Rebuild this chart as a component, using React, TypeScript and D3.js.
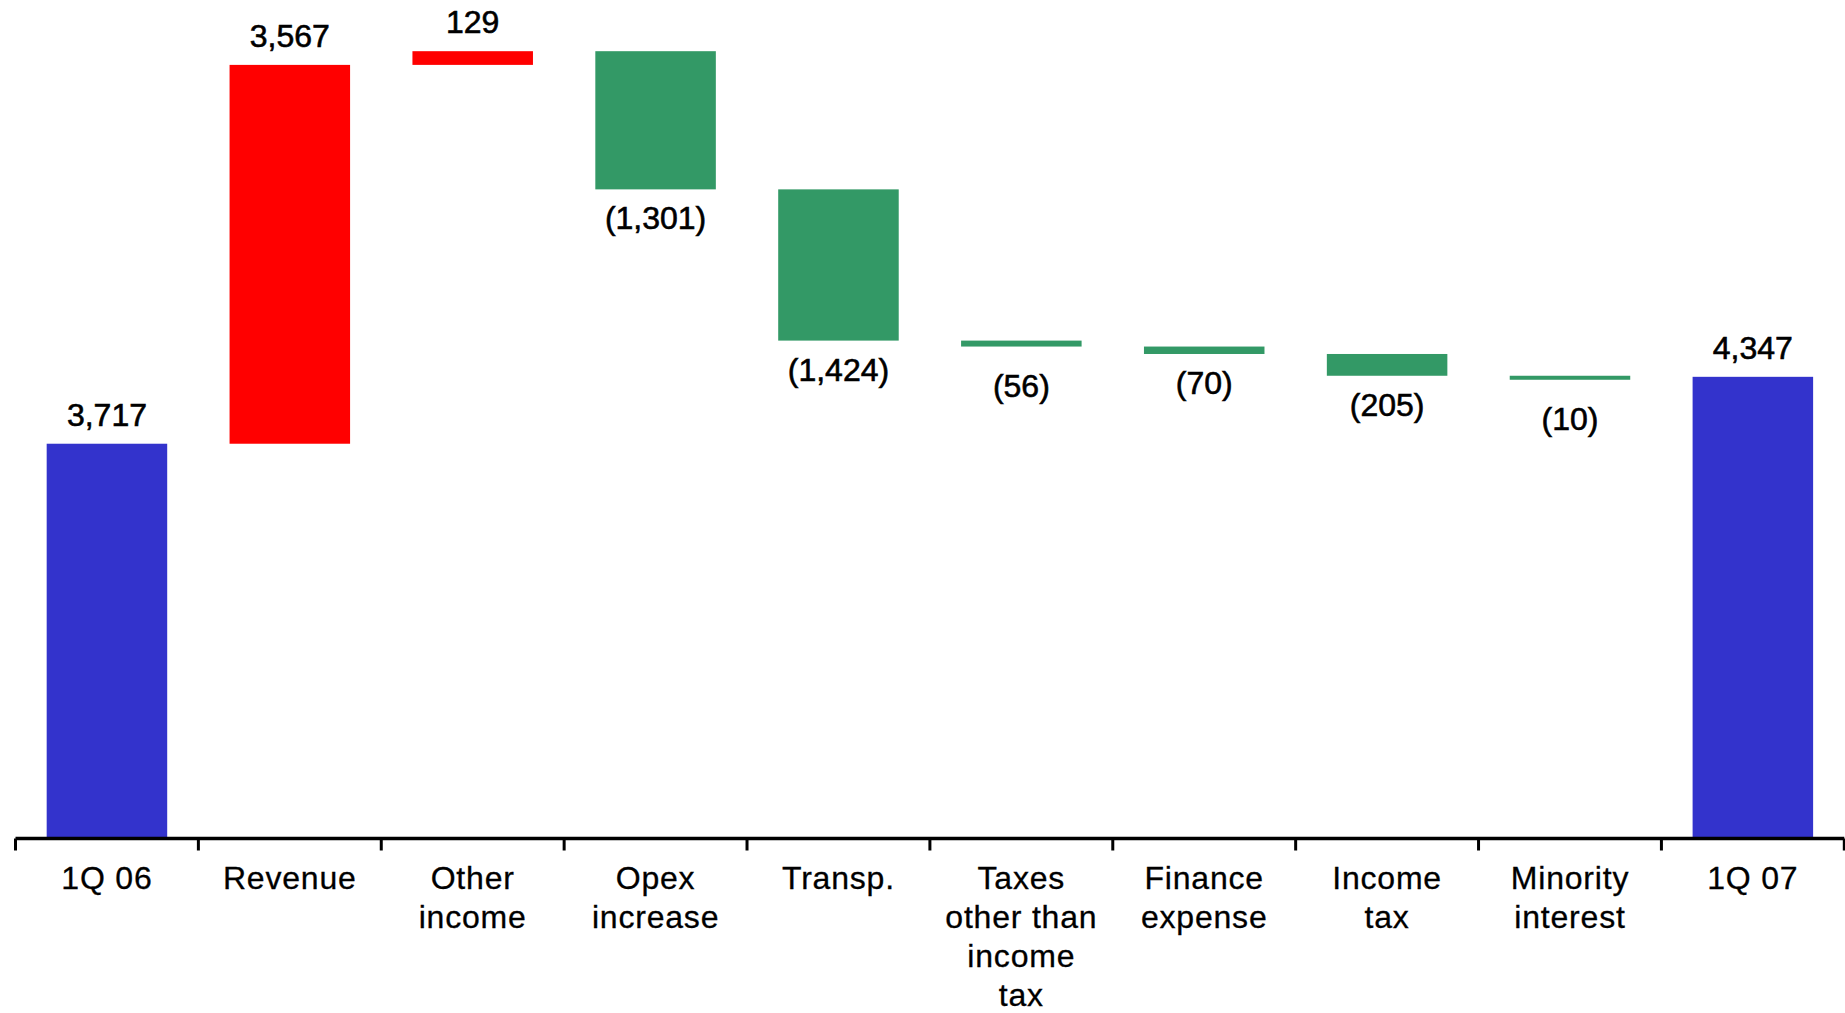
import React from "react";
import * as d3 from "d3";

// Bridge from 1Q 06 to 1Q 07 net income, in millions
const categories = [
  "1Q 06",
  "Revenue",
  "Other income",
  "Opex increase",
  "Transp.",
  "Taxes other than income tax",
  "Finance expense",
  "Income tax",
  "Minority interest",
  "1Q 07",
];

const categoryLines = [
  ["1Q 06"],
  ["Revenue"],
  ["Other", "income"],
  ["Opex", "increase"],
  ["Transp."],
  ["Taxes", "other than", "income", "tax"],
  ["Finance", "expense"],
  ["Income", "tax"],
  ["Minority", "interest"],
  ["1Q 07"],
];

const values = [3717, 3567, 129, -1301, -1424, -56, -70, -205, -10, 4347];

const kinds = [
  "total",
  "change",
  "change",
  "change",
  "change",
  "change",
  "change",
  "change",
  "change",
  "total",
];

const WIDTH = 1845;
const HEIGHT = 1013;
const AXIS_Y = 838.5;
const FONT = "'Liberation Sans', Arial, sans-serif";

const COLORS = {
  total: "#3333CC",
  up: "#FF0000",
  down: "#339966",
};

type Step = {
  cat: string;
  lines: string[];
  value: number;
  y0: number;
  y1: number;
  kind: string;
};

function buildSteps(): Step[] {
  let running = 0;
  return categories.map((cat, i) => {
    const v = values[i];
    let y0: number;
    let y1: number;
    if (kinds[i] === "total") {
      y0 = 0;
      y1 = v;
      running = v;
    } else {
      y0 = running;
      y1 = running + v;
      running = y1;
    }
    return { cat, lines: categoryLines[i], value: v, y0, y1, kind: kinds[i] };
  });
}

const fmt = d3.format(",");
const labelText = (v: number) => (v < 0 ? `(${fmt(-v)})` : fmt(v));

export default function App() {
  const steps = buildSteps();

  const x = d3
    .scaleBand<string>()
    .domain(categories)
    .range([15.5, 1844.3])
    .paddingInner(0.341)
    .paddingOuter(0.1705);

  const y = d3.scaleLinear().domain([0, 7895]).range([AXIS_Y, 0]);

  const step = x.step();
  const start = x.range()[0];
  const tickXs = d3.range(categories.length + 1).map((i) => start + i * step);
  const minBar = 4;

  return (
    <svg
      width={WIDTH}
      height={HEIGHT}
      viewBox={`0 0 ${WIDTH} ${HEIGHT}`}
      style={{ position: "absolute", left: 0, top: 0, background: "#fff" }}
    >
      <rect x={0} y={0} width={WIDTH} height={HEIGHT} fill="#fff" />
      {steps.map((s) => {
        const top = y(Math.max(s.y0, s.y1));
        const bottom = y(Math.min(s.y0, s.y1));
        const h = Math.max(bottom - top, minBar);
        const fill =
          s.kind === "total" ? COLORS.total : s.value >= 0 ? COLORS.up : COLORS.down;
        const bx = x(s.cat)!;
        const cx = bx + x.bandwidth() / 2;
        const isDown = s.kind !== "total" && s.value < 0;
        // hairline bars get their label pushed a little further down
        const labelY = isDown
          ? top + h + 40 + (bottom - top < 6.5 ? 10 : 0)
          : top - 18;
        return (
          <g key={s.cat}>
            <rect x={bx} y={top} width={x.bandwidth()} height={h} fill={fill} />
            <text
              x={cx}
              y={labelY}
              textAnchor="middle"
              fontFamily={FONT}
              fontSize={32}
              fill="#000"
              stroke="#000"
              strokeWidth={0.6}
            >
              {labelText(s.value)}
            </text>
          </g>
        );
      })}

      {/* category axis */}
      <line
        x1={tickXs[0]}
        x2={tickXs[tickXs.length - 1]}
        y1={AXIS_Y}
        y2={AXIS_Y}
        stroke="#000"
        strokeWidth={3.5}
      />
      {tickXs.map((tx, i) => (
        <line
          key={i}
          x1={tx}
          x2={tx}
          y1={AXIS_Y}
          y2={AXIS_Y + 12}
          stroke="#000"
          strokeWidth={3}
        />
      ))}
      {steps.map((s) => {
        const cx = x(s.cat)! + x.bandwidth() / 2;
        return (
          <text
            key={s.cat}
            textAnchor="middle"
            fontFamily={FONT}
            fontSize={32}
            letterSpacing={0.8}
            fill="#000"
            stroke="#000"
            strokeWidth={0.3}
          >
            {s.lines.map((ln, j) => (
              <tspan key={j} x={cx} y={889 + j * 39}>
                {ln}
              </tspan>
            ))}
          </text>
        );
      })}
    </svg>
  );
}
